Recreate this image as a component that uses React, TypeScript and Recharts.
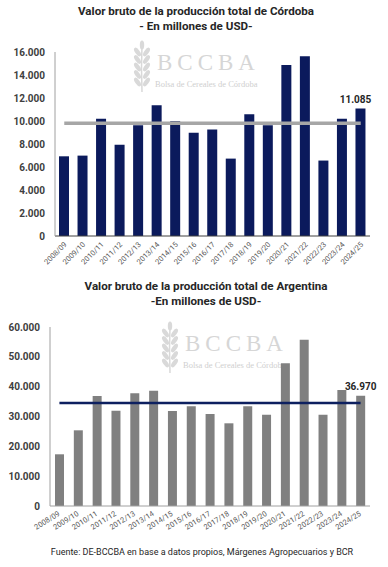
import { ComposedChart, Bar, Line, XAxis, YAxis, LabelList } from 'recharts'

const categorias = [
  '2008/09', '2009/10', '2010/11', '2011/12', '2012/13', '2013/14', '2014/15', '2015/16', '2016/17',
  '2017/18', '2018/19', '2019/20', '2020/21', '2021/22', '2022/23', '2023/24', '2024/25',
]
const cordoba = [6930, 6990, 10200, 7930, 9640, 11370, 9970, 8980, 9270, 6730, 10580, 9640, 14860, 15620, 6560, 10200, 11085]
const argentina = [17330, 25370, 36870, 31950, 37780, 38660, 31840, 33420, 30840, 27720, 33420, 30600, 47830, 55740, 30600, 38880, 36970]
const promedioCordoba = 9800
const promedioArgentina = 34500
const ticksCordoba = [0, 2000, 4000, 6000, 8000, 10000, 12000, 14000, 16000]
const ticksArgentina = [0, 10000, 20000, 30000, 40000, 50000, 60000]

const dataCordoba = categorias.map((c, i) => ({ campana: c, valor: cordoba[i], promedio: promedioCordoba }))
const dataArgentina = categorias.map((c, i) => ({ campana: c, valor: argentina[i], promedio: promedioArgentina }))

const fmt = (v: number) => String(v).replace(/\B(?=(\d{3})+(?!\d))/g, '.')
const FONT = 'Roboto, "Liberation Sans", sans-serif'

const XTick = ({ x, y, payload, angle, dx, dy }: any) => (
  <g transform={`translate(${x + dx},${y + dy})`}>
    <text textAnchor="end" transform={`rotate(${angle})`} fontSize={7.5} fill="#595959" fontFamily={FONT}>
      {payload.value}
    </text>
  </g>
)

const ultimoLabel = (dx: number) => (props: any) => {
  const { x, y, width, value, index } = props
  if (index !== categorias.length - 1) return null
  return (
    <text x={x + width / 2 + dx} y={y - 6} textAnchor="middle" fontSize={10} fontWeight={700} fill="#262626" fontFamily={FONT}>
      {fmt(value)}
    </text>
  )
}

function Watermark({ left, top }: { left: number; top: number }) {
  const granos = [0, 1, 2, 3, 4]
  return (
    <svg style={{ position: 'absolute', left, top }} width={160} height={56}>
      <g fill="#d9d9d9" stroke="none">
        <path d="M10 52 Q9 28 10 4" stroke="#d9d9d9" strokeWidth={1.5} fill="none" />
        <ellipse cx={10} cy={5} rx={2.2} ry={4.5} />
        {granos.map((i) => (
          <g key={i}>
            <ellipse cx={5.5} cy={12 + i * 7.5} rx={2.3} ry={5} transform={`rotate(-35 5.5 ${12 + i * 7.5})`} />
            <ellipse cx={14.5} cy={12 + i * 7.5} rx={2.3} ry={5} transform={`rotate(35 14.5 ${12 + i * 7.5})`} />
          </g>
        ))}
      </g>
      <text x={25} y={30} fontFamily='"Liberation Serif", serif' fontSize={23} letterSpacing={5} fill="#d6d6d6">
        BCCBA
      </text>
      <text x={23} y={47} fontFamily='"Liberation Serif", serif' fontSize={8.5} fill="#cfcfcf">
        Bolsa de Cereales de Córdoba
      </text>
    </svg>
  )
}

const titleStyle = (top: number, left: number): React.CSSProperties => ({
  position: 'absolute', top, left, width: 388, textAlign: 'center', fontFamily: FONT,
  fontWeight: 700, fontSize: 11.6, color: '#262626', lineHeight: '15px',
})

export default function App() {
  return (
    <div style={{ position: 'absolute', left: 0, top: 0, width: 388, height: 567, background: '#fff', overflow: 'hidden' }}>
      <div style={titleStyle(4, 2)}>
        Valor bruto de la producción total de Córdoba
        <br />- En millones de USD-
      </div>
      <Watermark left={132} top={40} />
      <div style={{ position: 'absolute', left: 0, top: 0 }}>
        <ComposedChart width={388} height={280} data={dataCordoba} margin={{ top: 52, right: 18, bottom: 4, left: 0 }}>
          <XAxis
            dataKey="campana"
            interval={0}
            height={40}
            tickLine={false}
            stroke="#404040"
            tick={<XTick angle={-45} dx={3} dy={1} />}
          />
          <YAxis
            domain={[0, 16000]}
            ticks={ticksCordoba}
            width={55}
            tickLine={false}
            tickMargin={4}
            stroke="#a0a0a0"
            tick={{ fill: '#404040', fontSize: 10, fontWeight: 700, fontFamily: FONT }}
            tickFormatter={fmt}
          />
          <Bar dataKey="valor" fill="#0b1a5c" barSize={10} isAnimationActive={false}>
            <LabelList dataKey="valor" content={ultimoLabel(-5)} />
          </Bar>
          <Line dataKey="promedio" stroke="#a6a6a6" strokeWidth={3.5} dot={false} isAnimationActive={false} />
        </ComposedChart>
      </div>

      <div style={titleStyle(279, 12)}>
        Valor bruto de la producción total de Argentina
        <br />-En millones de USD-
      </div>
      <Watermark left={160} top={321} />
      <div style={{ position: 'absolute', left: 0, top: 280 }}>
        <ComposedChart width={388} height={262} data={dataArgentina} margin={{ top: 47, right: 18, bottom: 4, left: 0 }}>
          <XAxis
            dataKey="campana"
            interval={0}
            height={32}
            tickLine={false}
            stroke="#a0a0a0"
            tick={<XTick angle={-32} dx={1} dy={1} />}
          />
          <YAxis
            domain={[0, 60000]}
            ticks={ticksArgentina}
            width={50}
            tickLine={false}
            tickMargin={4}
            stroke="#a0a0a0"
            tick={{ fill: '#404040', fontSize: 10, fontWeight: 700, fontFamily: FONT }}
            tickFormatter={fmt}
          />
          <Bar dataKey="valor" fill="#808080" barSize={9} isAnimationActive={false}>
            <LabelList dataKey="valor" content={ultimoLabel(0)} />
          </Bar>
          <Line dataKey="promedio" stroke="#0d2060" strokeWidth={2.5} dot={false} isAnimationActive={false} />
        </ComposedChart>
      </div>

      <div style={{ position: 'absolute', top: 547, left: 8, width: 388, textAlign: 'center', fontFamily: FONT, fontSize: 9, color: '#262626' }}>
        Fuente: DE-BCCBA en base a datos propios, Márgenes Agropecuarios y BCR
      </div>
    </div>
  )
}
